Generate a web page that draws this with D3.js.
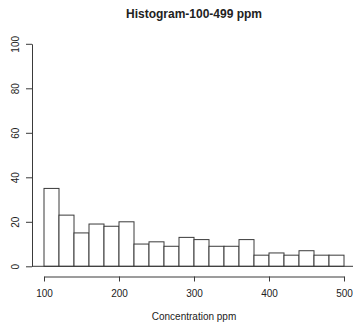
<!DOCTYPE html>
<html>
<head>
<meta charset="utf-8">
<script src="https://cdn.jsdelivr.net/npm/d3@7"></script>
<style>
	body { margin: 0; background: #fff; }
	svg { display: block; font-family: 'Liberation Sans', Arial, sans-serif; }
</style>
</head>
<body>
<svg id="chart"></svg>
<script>
// bins of 20 ppm from 100 to 500
const binStarts = [100, 120, 140, 160, 180, 200, 220, 240, 260, 280, 300, 320, 340, 360, 380, 400, 420, 440, 460, 480]
const binWidth = 20
const counts = [35, 23, 15, 19, 18, 20, 10, 11, 9, 13, 12, 9, 9, 12, 5, 6, 5, 7, 5, 5]
const xTicks = [100, 200, 300, 400, 500]
const yTicks = [0, 20, 40, 60, 80, 100]

const outerWidth = 353
const outerHeight = 333
const textColor = '#222'
const lineColor = '#3a3a3a'

const svg = d3.select('#chart')
	.attr('width', outerWidth)
	.attr('height', outerHeight)

const xScale = d3.scaleLinear()
	.domain([100, 500])
	.range([44, 344])
const yScale = d3.scaleLinear()
	.domain([0, 100])
	.range([266.3, 43.8])

// title
svg.append('text')
	.attr('x', xScale(300))
	.attr('y', 18)
	.attr('text-anchor', 'middle')
	.attr('font-size', '12px')
	.attr('font-weight', 'bold')
	.attr('fill', textColor)
	.text('Histogram-100-499 ppm')

// bars
svg.append('g').selectAll('rect')
	.data(binStarts)
	.join('rect')
	.attr('x', (d) => xScale(d))
	.attr('y', (d, i) => yScale(counts[i]))
	.attr('width', (d) => xScale(d + binWidth) - xScale(d))
	.attr('height', (d, i) => yScale(0) - yScale(counts[i]))
	.attr('fill', '#fff')
	.attr('stroke', lineColor)
	.attr('stroke-width', 1)

// baseline across the plot region
svg.append('line')
	.attr('x1', xScale(84))
	.attr('x2', xScale(516))
	.attr('y1', yScale(0))
	.attr('y2', yScale(0))
	.attr('stroke', lineColor)

// y axis
const yAxis = d3.axisLeft(yScale)
	.tickValues(yTicks)
	.tickSize(6)
	.tickSizeOuter(0)
const yAxisGroup = svg.append('g')
	.attr('transform', `translate(${xScale(84)},0)`)
	.call(yAxis)
yAxisGroup.selectAll('path, line').attr('stroke', lineColor)
yAxisGroup.selectAll('text')
	.attr('font-size', '10px')
	.attr('font-family', "'Liberation Sans', Arial, sans-serif")
	.attr('fill', textColor)
	.attr('text-anchor', 'middle')
	.attr('x', null)
	.attr('transform', 'translate(-17,0) rotate(-90)')
	.attr('dy', '0.35em')

// x axis
const xAxis = d3.axisBottom(xScale)
	.tickValues(xTicks)
	.tickSize(5)
	.tickSizeOuter(0)
	.tickPadding(8.5)
const xAxisGroup = svg.append('g')
	.attr('transform', `translate(0,276.5)`)
	.call(xAxis)
xAxisGroup.selectAll('path, line').attr('stroke', lineColor)
xAxisGroup.selectAll('text')
	.attr('font-size', '10px')
	.attr('font-family', "'Liberation Sans', Arial, sans-serif")
	.attr('fill', textColor)

// x axis label
svg.append('text')
	.attr('x', xScale(300))
	.attr('y', 320)
	.attr('text-anchor', 'middle')
	.attr('font-size', '10px')
	.attr('fill', textColor)
	.text('Concentration ppm')
</script>
</body>
</html>
